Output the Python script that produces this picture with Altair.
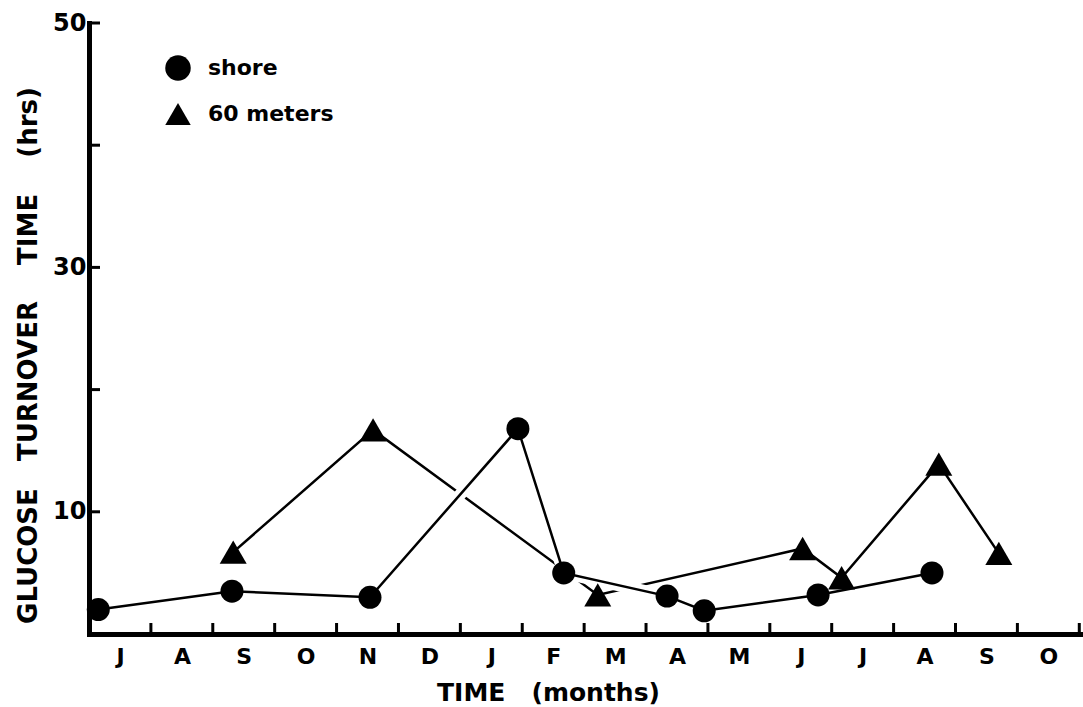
import altair as alt
import pandas as pd

# Month letters along the time axis (July of year one to October of year two)
MONTHS = ["J", "A", "S", "O", "N", "D", "J", "F", "M", "A", "M", "J", "J", "A", "S", "O"]

# Shore station: sampling time (months from 1 July) and turnover time (hrs)
shore_month = [0.15, 2.31, 4.54, 6.93, 7.67, 9.34, 9.94, 11.78, 13.62]
shore_hrs = [2.0, 3.5, 3.0, 16.8, 5.0, 3.1, 1.9, 3.2, 5.0]

# 60 meter station
deep_month = [2.33, 4.59, 8.22, 11.53, 12.16, 13.73, 14.70]
deep_hrs = [6.7, 16.7, 3.2, 7.0, 4.6, 13.9, 6.6]

Y_TICKS = [10, 20, 30, 40, 50]
Y_LABELS = [10, 30, 50]
SERIES = ["shore", "60 meters"]
SHAPES = ["circle", "triangle-up"]

FONT = "DejaVu Sans"
NB = "\u00a0"
PLOT_W, PLOT_H = 994, 611
TICK_LEN = 11

shore = pd.DataFrame({"month": shore_month, "hrs": shore_hrs, "station": SERIES[0]})
deep = pd.DataFrame({"month": deep_month, "hrs": deep_hrs, "station": SERIES[1]})

x_ticks = pd.DataFrame({"m": list(range(1, len(MONTHS) + 1))})
y_ticks = pd.DataFrame({"v": Y_TICKS})

month_expr = "[" + ",".join(f"'{m}'" for m in MONTHS) + "][datum.value]"
ylab_expr = "indexof([" + ",".join(str(v) for v in Y_LABELS) + "], datum.value) >= 0 ? datum.label : ''"

x_scale = alt.Scale(domain=[0, 16.06], nice=False, zero=False)
y_scale = alt.Scale(domain=[0, 50], nice=False, zero=True)

x_axis = alt.Axis(
    values=list(range(len(MONTHS))), labelExpr=month_expr,
    ticks=False, tickSize=0, grid=False,
    domainColor="black", domainWidth=5, domainCap="square",
    labelOffset=31, labelPadding=12, labelFlush=False, labelOverlap=False,
    labelFont=FONT, labelFontSize=22, labelFontWeight="bold", labelColor="black",
    title=f"TIME{NB}{NB}{NB}(months)", titleFont=FONT, titleFontSize=25,
    titleFontWeight="bold", titleColor="black",
    titleX=459, titleY=66, titleBaseline="alphabetic", titleAlign="center",
)

y_axis = alt.Axis(
    values=Y_TICKS, labelExpr=ylab_expr,
    ticks=False, tickSize=0, grid=False,
    domainColor="black", domainWidth=5, domainCap="square",
    labelPadding=3, labelFlush=False, labelOverlap=False, labelBaseline="middle",
    labelFont=FONT, labelFontSize=24, labelFontWeight="bold", labelColor="black",
    title=f"GLUCOSE{NB}{NB}{NB}TURNOVER{NB}{NB}{NB}{NB}TIME{NB}{NB}{NB}{NB}(hrs)",
    titleFont=FONT, titleFontSize=26, titleFontWeight="bold", titleColor="black",
    titleAngle=270, titleX=-53, titleY=332, titleBaseline="alphabetic", titleAlign="center",
)

x_enc = alt.X("month:Q", scale=x_scale, axis=x_axis)
y_enc = alt.Y("hrs:Q", scale=y_scale, axis=y_axis)

shape_enc = alt.Shape(
    "station:N",
    scale=alt.Scale(domain=SERIES, range=SHAPES),
    legend=alt.Legend(
        title=None, orient="none", legendX=76, legendY=32,
        symbolSize=650, symbolFillColor="black", symbolStrokeColor="black",
        symbolStrokeWidth=0, symbolOpacity=1,
        labelFont=FONT, labelFontSize=22, labelFontWeight="bold", labelColor="black",
        labelOffset=17, rowPadding=20, padding=0, offset=0,
    ),
)

# inward tick marks on both axes, drawn as short rules
xtick_layer = alt.Chart(x_ticks).mark_rule(color="black", strokeWidth=3).encode(
    x=alt.X("m:Q"), y=alt.value(PLOT_H), y2=alt.value(PLOT_H - TICK_LEN))

ytick_layer = alt.Chart(y_ticks).mark_rule(color="black", strokeWidth=3).encode(
    y=alt.Y("v:Q"), x=alt.value(0), x2=alt.value(TICK_LEN))

deep_line = alt.Chart(deep).mark_line(color="black", strokeWidth=2.5).encode(x=x_enc, y=y_enc)

# white band under the shore line breaks the 60 m line where they cross
shore_halo = alt.Chart(shore).mark_line(color="white", strokeWidth=12).encode(
    x="month:Q", y="hrs:Q")
shore_line = alt.Chart(shore).mark_line(color="black", strokeWidth=2.5).encode(
    x="month:Q", y="hrs:Q")

deep_pts = alt.Chart(deep).mark_point(
    filled=True, opacity=1, color="black", size=729
).encode(x="month:Q", y="hrs:Q", shape=shape_enc)

shore_pts = alt.Chart(shore).mark_point(
    filled=True, opacity=1, color="black", size=529
).encode(x="month:Q", y="hrs:Q", shape=shape_enc)

chart = alt.layer(
    deep_line, xtick_layer, ytick_layer, shore_halo, shore_line, deep_pts, shore_pts
).properties(
    width=PLOT_W, height=PLOT_H,
    padding={"left": 89, "top": 23, "right": 0, "bottom": 73},
    autosize=alt.AutoSizeParams(type="none"),
    background="white",
).configure_view(stroke=None)

chart.save("out.html", embed_options={"renderer": "svg", "actions": False})
